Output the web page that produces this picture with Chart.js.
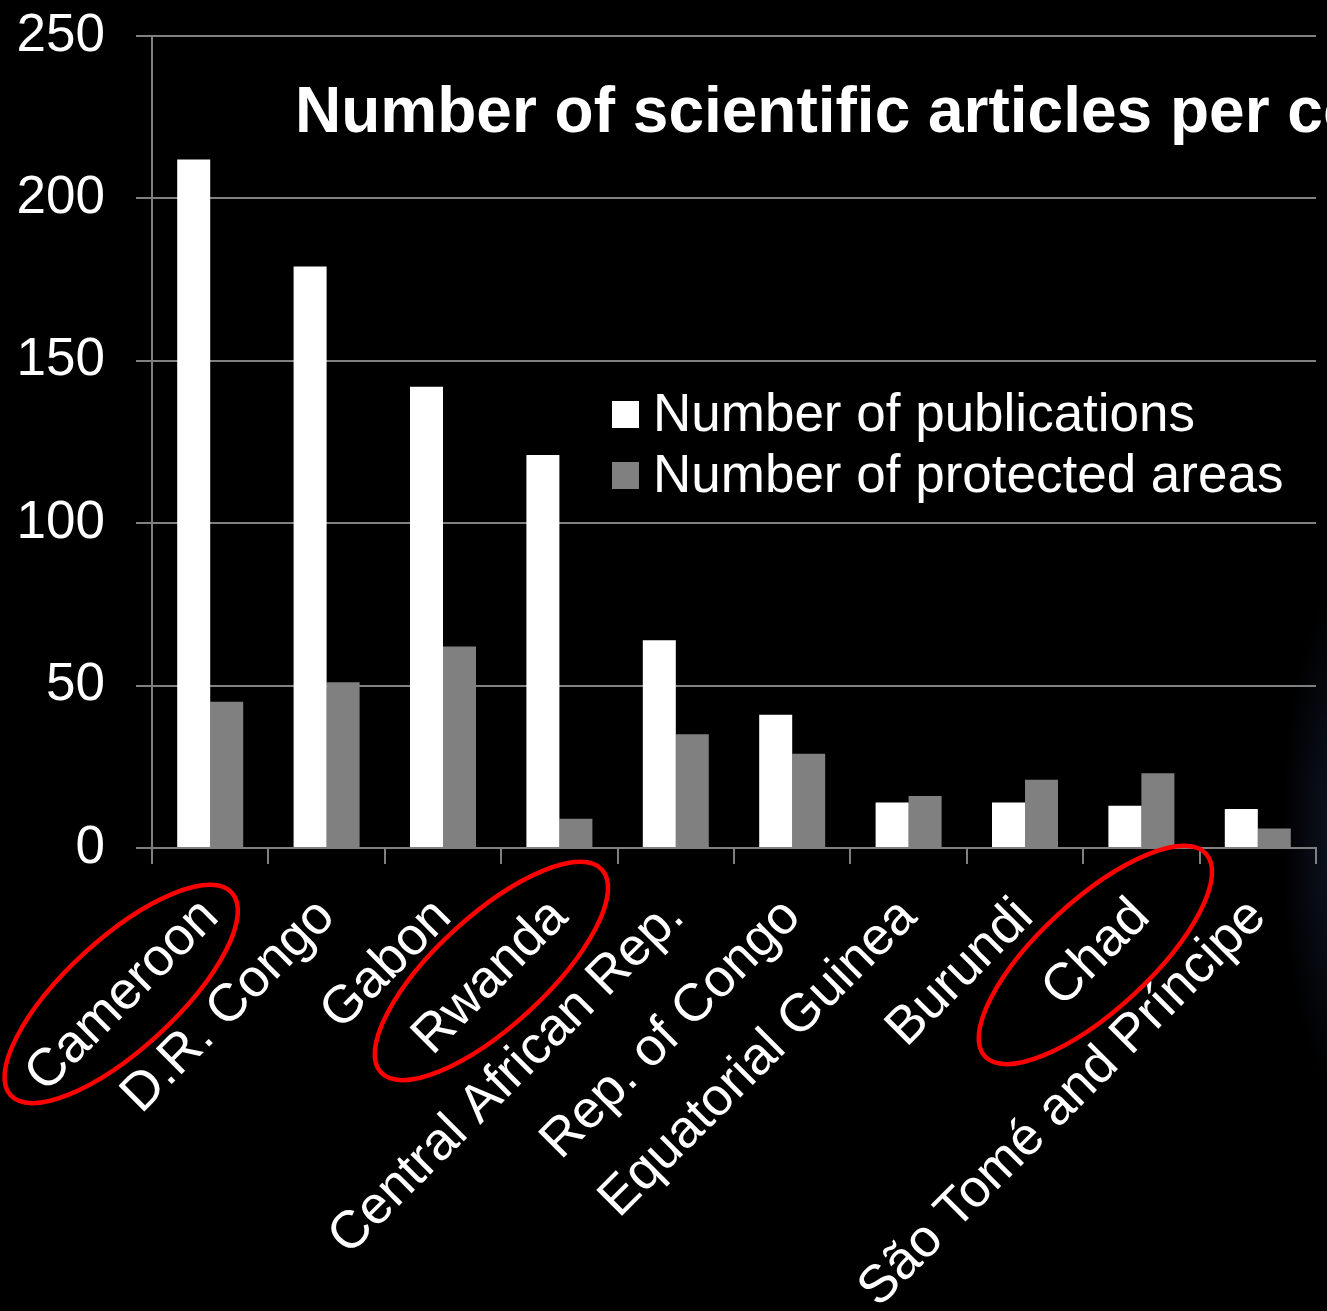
<!DOCTYPE html>
<html>
<head>
<meta charset="utf-8">
<script src="https://cdn.jsdelivr.net/npm/chart.js@4/dist/chart.umd.min.js"></script>
<style>
  html, body { margin: 0; padding: 0; background: #000; overflow: hidden; }
  #wrap { position: relative; width: 1327px; height: 1311px; background: #000; }
  canvas { display: block; }
</style>
</head>
<body>
<div id="wrap"><canvas id="c" width="1327" height="1311"></canvas></div>
<script>
const categories = ['Cameroon', 'D.R. Congo', 'Gabon', 'Rwanda', 'Central African Rep.', 'Rep. of Congo', 'Equatorial Guinea', 'Burundi', 'Chad', 'São Tomé and Príncipe'];
const publications = [212, 179, 142, 121, 64, 41, 14, 14, 13, 12];
const protectedAreas = [45, 51, 62, 9, 35, 29, 16, 21, 23, 6];
const yTicks = [0, 50, 100, 150, 200, 250];
const seriesLabels = ['Number of publications', 'Number of protected areas'];
const titleText = 'Number of scientific articles per country';
const highlighted = ['Cameroon', 'Rwanda', 'Chad'];

const FONT = '"Liberation Sans", Arial, sans-serif';
const GRID = '#808080';

// ellipse styles keyed by highlighted category (offsets from category centre / axis bottom)
const ellipseStyle = {
  'Cameroon': { dx: -89, dy: 146 },
  'Rwanda':   { dx: -68, dy: 123 },
  'Chad':     { dx: -46, dy: 107 }
};

const bgPlugin = {
  id: 'bg',
  beforeDraw(chart) {
    const { ctx, width, height } = chart;
    ctx.save();
    ctx.fillStyle = '#000';
    ctx.fillRect(0, 0, width, height);
    // faint navy tint along the right edge
    ctx.translate(width + 20, 840);
    ctx.scale(0.25, 1);
    const g = ctx.createRadialGradient(0, 0, 0, 0, 0, 260);
    g.addColorStop(0, 'rgba(20,32,56,0.75)');
    g.addColorStop(1, 'rgba(20,32,56,0)');
    ctx.fillStyle = g;
    ctx.fillRect(-300, -300, 600, 600);
    ctx.restore();
  }
};

const overlayPlugin = {
  id: 'overlay',
  afterDraw(chart) {
    const { ctx } = chart;
    const xs = chart.scales.x, ys = chart.scales.y;
    ctx.save();
    // title (clipped by canvas edge)
    ctx.fillStyle = '#fff';
    ctx.font = 'bold 64px ' + FONT;
    ctx.textAlign = 'left';
    ctx.textBaseline = 'alphabetic';
    ctx.fillText(titleText, 295, 132);

    // legend
    const colors = chart.data.datasets.map(d => d.backgroundColor);
    ctx.font = '53px ' + FONT;
    ctx.textBaseline = 'middle';
    chart.data.datasets.forEach((d, i) => {
      const cy = 414 + i * 61;
      ctx.fillStyle = colors[i];
      ctx.fillRect(612, cy - 13, 27, 27);
      ctx.fillStyle = '#fff';
      ctx.fillText(d.label, 653, cy + 2);
    });

    // red ellipses
    ctx.strokeStyle = '#ff0000';
    ctx.lineWidth = 4.5;
    highlighted.forEach(name => {
      const idx = categories.indexOf(name);
      const st = ellipseStyle[name];
      const cx = xs.getPixelForValue(idx) + st.dx;
      const cy = ys.bottom + st.dy;
      ctx.beginPath();
      ctx.ellipse(cx, cy, 150, 55, -42.5 * Math.PI / 180, 0, Math.PI * 2);
      ctx.stroke();
    });
    ctx.restore();
  }
};

new Chart(document.getElementById('c'), {
  type: 'bar',
  data: {
    labels: categories,
    datasets: [
      { label: seriesLabels[0], data: publications, backgroundColor: '#ffffff', borderWidth: 0 },
      { label: seriesLabels[1], data: protectedAreas, backgroundColor: '#808080', borderWidth: 0 }
    ]
  },
  options: {
    responsive: false,
    animation: false,
    layout: { padding: { top: 36, right: 11, left: 0, bottom: 0 } },
    plugins: {
      legend: { display: false },
      title: { display: false },
      tooltip: { enabled: false }
    },
    datasets: { bar: { categoryPercentage: 0.567, barPercentage: 1.0 } },
    scales: {
      x: {
        offset: true,
        grid: { display: true, drawOnChartArea: false, drawTicks: true, tickLength: 16, color: GRID, lineWidth: 2, offset: true },
        border: { display: true, color: GRID, width: 2 },
        ticks: {
          color: '#fff',
          font: { family: FONT, size: 53 },
          maxRotation: 45, minRotation: 45,
          autoSkip: false,
          padding: 22
        },
        afterFit(scale) { scale.height = 463; }
      },
      y: {
        min: 0, max: 250,
        afterBuildTicks(scale) { scale.ticks = yTicks.map(v => ({ value: v })); },
        grid: { color: GRID, lineWidth: 2, tickLength: 16, drawTicks: true },
        border: { display: true, color: GRID, width: 2 },
        ticks: {
          color: '#fff',
          font: { family: FONT, size: 53 },
          padding: 31
        },
        afterFit(scale) {
          scale.width = 152;
          scale.paddingTop = 0;
          scale.paddingBottom = 0;
        }
      }
    }
  },
  plugins: [bgPlugin, overlayPlugin]
});
</script>
</body>
</html>
